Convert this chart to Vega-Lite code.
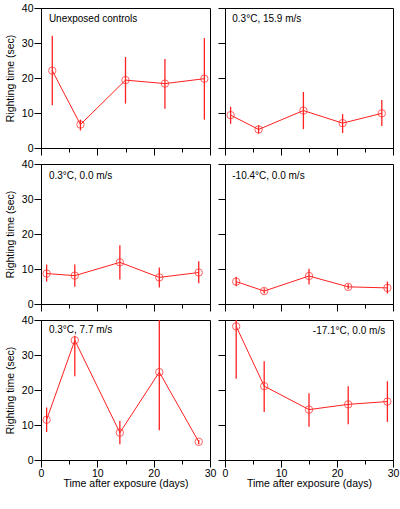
{
  "$schema": "https://vega.github.io/schema/vega-lite/v6.json",
  "background": "white",
  "padding": {"left": 4, "top": 2, "right": 5, "bottom": 5},
  "datasets": {
    "d": [
      {"panel": "A", "day": 2, "mean": 22.1, "lo": 12.2, "hi": 32.1},
      {"panel": "A", "day": 7, "mean": 6.7, "lo": 5.0, "hi": 8.1},
      {"panel": "A", "day": 15, "mean": 19.4, "lo": 12.7, "hi": 26.0},
      {"panel": "A", "day": 22, "mean": 18.4, "lo": 11.2, "hi": 25.4},
      {"panel": "A", "day": 29, "mean": 19.8, "lo": 8.1, "hi": 31.4},
      {"panel": "B", "day": 1, "mean": 9.4, "lo": 6.9, "hi": 11.8},
      {"panel": "B", "day": 6, "mean": 5.3, "lo": 4.1, "hi": 6.5},
      {"panel": "B", "day": 14, "mean": 10.7, "lo": 5.4, "hi": 16.0},
      {"panel": "B", "day": 21, "mean": 7.1, "lo": 4.3, "hi": 9.7},
      {"panel": "B", "day": 28, "mean": 9.9, "lo": 6.3, "hi": 13.7},
      {"panel": "C", "day": 1, "mean": 8.7, "lo": 6.4, "hi": 11.3},
      {"panel": "C", "day": 6, "mean": 8.1, "lo": 4.9, "hi": 11.3},
      {"panel": "C", "day": 14, "mean": 11.9, "lo": 7.0, "hi": 16.8},
      {"panel": "C", "day": 21, "mean": 7.6, "lo": 4.7, "hi": 10.4},
      {"panel": "C", "day": 28, "mean": 9.0, "lo": 5.9, "hi": 12.2},
      {"panel": "D", "day": 2, "mean": 6.4, "lo": 5.1, "hi": 7.8},
      {"panel": "D", "day": 7, "mean": 3.7, "lo": 3.0, "hi": 4.5},
      {"panel": "D", "day": 15, "mean": 8.0, "lo": 5.6, "hi": 10.1},
      {"panel": "D", "day": 22, "mean": 4.9, "lo": 4.2, "hi": 5.7},
      {"panel": "D", "day": 29, "mean": 4.6, "lo": 3.0, "hi": 6.4},
      {"panel": "E", "day": 1, "mean": 11.5, "lo": 8.0, "hi": 15.0},
      {"panel": "E", "day": 6, "mean": 34.2, "lo": 23.9, "hi": 35.5},
      {"panel": "E", "day": 14, "mean": 7.8, "lo": 4.5, "hi": 11.2},
      {"panel": "E", "day": 21, "mean": 25.1, "lo": 8.5, "hi": 41.7},
      {"panel": "E", "day": 28, "mean": 5.2, "lo": 4.5, "hi": 5.7},
      {"panel": "F", "day": 2, "mean": 38.2, "lo": 23.2, "hi": 41.0},
      {"panel": "F", "day": 7, "mean": 21.1, "lo": 13.7, "hi": 28.2},
      {"panel": "F", "day": 15, "mean": 14.4, "lo": 9.5, "hi": 19.1},
      {"panel": "F", "day": 22, "mean": 15.9, "lo": 10.2, "hi": 21.1},
      {"panel": "F", "day": 29, "mean": 16.7, "lo": 10.9, "hi": 22.5}
    ]
  },
  "columns": 2,
  "spacing": {"row": 2, "column": 0},
  "concat": [
    {
      "width": 169, "height": 140,
      "data": {"name": "d"},
      "transform": [{"filter": "datum.panel === 'A'"}],
      "encoding": {
        "x": {"field": "day", "type": "quantitative", "scale": {"domain": [0, 30], "nice": false},
              "axis": {"labels": false, "title": null}},
        "y": {"field": "mean", "type": "quantitative", "scale": {"domain": [0, 40], "nice": false},
              "axis": {"title": "Righting time (sec)"}}
      },
      "layer": [
        {"mark": {"type": "rule", "color": "#ff2020", "strokeWidth": 1.3, "clip": true},
         "encoding": {"y": {"field": "lo", "type": "quantitative"}, "y2": {"field": "hi"}}},
        {"mark": {"type": "line", "color": "#ff2020", "strokeWidth": 1}},
        {"mark": {"type": "point", "shape": "circle", "filled": false, "color": "#ff2020", "size": 55, "strokeWidth": 1}},
        {"transform": [{"window": [{"op": "row_number", "as": "rn"}]}, {"filter": "datum.rn === 1"}],
         "mark": {"type": "text", "text": "Unexposed controls", "align": "left", "baseline": "middle", "fontSize": 10, "font": "Liberation Sans", "color": "black"},
         "encoding": {"x": {"datum": 1.4}, "y": {"datum": 37}}}
      ]
    },
    {
      "width": 168, "height": 140,
      "data": {"name": "d"},
      "transform": [{"filter": "datum.panel === 'B'"}],
      "encoding": {
        "x": {"field": "day", "type": "quantitative", "scale": {"domain": [0, 30], "nice": false},
              "axis": {"labels": false, "title": null}},
        "y": {"field": "mean", "type": "quantitative", "scale": {"domain": [0, 40], "nice": false},
              "axis": {"labels": false, "title": null}}
      },
      "layer": [
        {"mark": {"type": "rule", "color": "#ff2020", "strokeWidth": 1.3, "clip": true},
         "encoding": {"y": {"field": "lo", "type": "quantitative"}, "y2": {"field": "hi"}}},
        {"mark": {"type": "line", "color": "#ff2020", "strokeWidth": 1}},
        {"mark": {"type": "point", "shape": "circle", "filled": false, "color": "#ff2020", "size": 55, "strokeWidth": 1}},
        {"transform": [{"window": [{"op": "row_number", "as": "rn"}]}, {"filter": "datum.rn === 1"}],
         "mark": {"type": "text", "text": "0.3°C, 15.9 m/s", "align": "left", "baseline": "middle", "fontSize": 10, "font": "Liberation Sans", "color": "black"},
         "encoding": {"x": {"datum": 1.3}, "y": {"datum": 37}}}
      ]
    },
    {
      "width": 169, "height": 140,
      "data": {"name": "d"},
      "transform": [{"filter": "datum.panel === 'C'"}],
      "encoding": {
        "x": {"field": "day", "type": "quantitative", "scale": {"domain": [0, 30], "nice": false},
              "axis": {"labels": false, "title": null}},
        "y": {"field": "mean", "type": "quantitative", "scale": {"domain": [0, 40], "nice": false},
              "axis": {"title": "Righting time (sec)"}}
      },
      "layer": [
        {"mark": {"type": "rule", "color": "#ff2020", "strokeWidth": 1.3, "clip": true},
         "encoding": {"y": {"field": "lo", "type": "quantitative"}, "y2": {"field": "hi"}}},
        {"mark": {"type": "line", "color": "#ff2020", "strokeWidth": 1}},
        {"mark": {"type": "point", "shape": "circle", "filled": false, "color": "#ff2020", "size": 55, "strokeWidth": 1}},
        {"transform": [{"window": [{"op": "row_number", "as": "rn"}]}, {"filter": "datum.rn === 1"}],
         "mark": {"type": "text", "text": "0.3°C, 0.0 m/s", "align": "left", "baseline": "middle", "fontSize": 10, "font": "Liberation Sans", "color": "black"},
         "encoding": {"x": {"datum": 1.4}, "y": {"datum": 36.6}}}
      ]
    },
    {
      "width": 168, "height": 140,
      "data": {"name": "d"},
      "transform": [{"filter": "datum.panel === 'D'"}],
      "encoding": {
        "x": {"field": "day", "type": "quantitative", "scale": {"domain": [0, 30], "nice": false},
              "axis": {"labels": false, "title": null}},
        "y": {"field": "mean", "type": "quantitative", "scale": {"domain": [0, 40], "nice": false},
              "axis": {"labels": false, "title": null}}
      },
      "layer": [
        {"mark": {"type": "rule", "color": "#ff2020", "strokeWidth": 1.3, "clip": true},
         "encoding": {"y": {"field": "lo", "type": "quantitative"}, "y2": {"field": "hi"}}},
        {"mark": {"type": "line", "color": "#ff2020", "strokeWidth": 1}},
        {"mark": {"type": "point", "shape": "circle", "filled": false, "color": "#ff2020", "size": 55, "strokeWidth": 1}},
        {"transform": [{"window": [{"op": "row_number", "as": "rn"}]}, {"filter": "datum.rn === 1"}],
         "mark": {"type": "text", "text": "-10.4°C, 0.0 m/s", "align": "left", "baseline": "middle", "fontSize": 10, "font": "Liberation Sans", "color": "black"},
         "encoding": {"x": {"datum": 1.3}, "y": {"datum": 36.6}}}
      ]
    },
    {
      "width": 169, "height": 140,
      "data": {"name": "d"},
      "transform": [{"filter": "datum.panel === 'E'"}],
      "encoding": {
        "x": {"field": "day", "type": "quantitative", "scale": {"domain": [0, 30], "nice": false},
              "axis": {"title": "Time after exposure (days)", "labelExpr": "datum.value % 10 === 0 ? datum.label : ''"}},
        "y": {"field": "mean", "type": "quantitative", "scale": {"domain": [0, 40], "nice": false},
              "axis": {"title": "Righting time (sec)"}}
      },
      "layer": [
        {"mark": {"type": "rule", "color": "#ff2020", "strokeWidth": 1.3, "clip": true},
         "encoding": {"y": {"field": "lo", "type": "quantitative"}, "y2": {"field": "hi"}}},
        {"mark": {"type": "line", "color": "#ff2020", "strokeWidth": 1}},
        {"mark": {"type": "point", "shape": "circle", "filled": false, "color": "#ff2020", "size": 55, "strokeWidth": 1}},
        {"transform": [{"window": [{"op": "row_number", "as": "rn"}]}, {"filter": "datum.rn === 1"}],
         "mark": {"type": "text", "text": "0.3°C, 7.7 m/s", "align": "left", "baseline": "middle", "fontSize": 10, "font": "Liberation Sans", "color": "black"},
         "encoding": {"x": {"datum": 1.4}, "y": {"datum": 37.1}}}
      ]
    },
    {
      "width": 168, "height": 140,
      "data": {"name": "d"},
      "transform": [{"filter": "datum.panel === 'F'"}],
      "encoding": {
        "x": {"field": "day", "type": "quantitative", "scale": {"domain": [0, 30], "nice": false},
              "axis": {"title": "Time after exposure (days)", "labelExpr": "datum.value % 10 === 0 ? datum.label : ''"}},
        "y": {"field": "mean", "type": "quantitative", "scale": {"domain": [0, 40], "nice": false},
              "axis": {"labels": false, "title": null}}
      },
      "layer": [
        {"mark": {"type": "rule", "color": "#ff2020", "strokeWidth": 1.3, "clip": true},
         "encoding": {"y": {"field": "lo", "type": "quantitative"}, "y2": {"field": "hi"}}},
        {"mark": {"type": "line", "color": "#ff2020", "strokeWidth": 1}},
        {"mark": {"type": "point", "shape": "circle", "filled": false, "color": "#ff2020", "size": 55, "strokeWidth": 1}},
        {"transform": [{"window": [{"op": "row_number", "as": "rn"}]}, {"filter": "datum.rn === 1"}],
         "mark": {"type": "text", "text": "-17.1°C, 0.0 m/s", "align": "right", "baseline": "middle", "fontSize": 10, "font": "Liberation Sans", "color": "black"},
         "encoding": {"x": {"datum": 28.6}, "y": {"datum": 37}}}
      ]
    }
  ],
  "config": {
    "view": {"stroke": "black", "strokeWidth": 1},
    "font": "Liberation Sans",
    "axis": {
      "grid": false,
      "domainColor": "black",
      "tickColor": "black",
      "labelColor": "black",
      "titleColor": "black",
      "labelFont": "Liberation Sans",
      "titleFont": "Liberation Sans",
      "labelFontSize": 10.5,
      "titleFontSize": 10.5,
      "titleFontWeight": "normal",
      "tickSize": {"condition": {"test": "datum.value % 10 === 0", "value": 7}, "value": 4},
      "labelPadding": 1
    },
    "axisX": {"values": [0, 5, 10, 15, 20, 25, 30], "labelFlush": false, "labelOverlap": false, "titlePadding": 0},
    "axisY": {"values": [0, 5, 10, 15, 20, 25, 30, 35, 40], "labelExpr": "datum.value % 10 === 0 ? datum.label : ''", "labelFlush": false, "labelOverlap": false, "titlePadding": 6}
  }
}
